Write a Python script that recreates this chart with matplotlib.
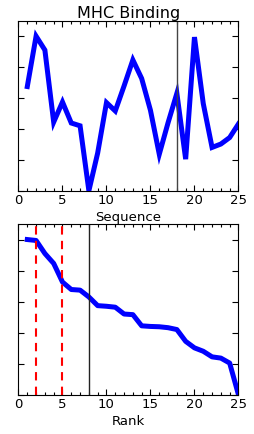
import matplotlib
matplotlib.use("Agg")
import matplotlib.pyplot as plt
from matplotlib.ticker import MultipleLocator, NullFormatter

positions = list(range(1, 26))
binding = [3.37, 5.00, 4.55, 2.22, 2.87, 2.19, 2.10, 0.00, 1.22, 2.85,
           2.58, 3.39, 4.23, 3.63, 2.60, 1.18, 2.20, 3.15, 1.02, 4.97,
           2.82, 1.40, 1.51, 1.72, 2.16]
ranked = sorted(binding, reverse=True)
ranks = list(range(1, 26))
seq_marker = 18
rank_marker = 8
red_marks = [2, 5]
xticks = [0, 5, 10, 15, 20, 25]

fig = plt.figure(figsize=(2.54, 4.35), dpi=100)
ax1 = fig.add_axes([0.0728, 0.5593, 0.866, 0.3908])
ax2 = fig.add_axes([0.0728, 0.0903, 0.866, 0.3924])

lo, hi = min(binding), max(binding)
ylim = (lo, hi + 0.1 * (hi - lo))

ax1.plot(positions, binding, color='#0000ff', lw=3.6, solid_joinstyle='miter')
ax1.axvline(seq_marker, color='#444444', lw=1.0)
ax1.set_title('MHC Binding', fontsize=11.5, pad=3)
ax1.set_xlabel('Sequence', fontsize=9.5, labelpad=2.5)

ax2.plot(ranks, ranked, color='#0000ff', lw=3.6)
for r in red_marks:
    ax2.axvline(r, color='red', lw=1.5, ls=(0, (4, 3)))
ax2.axvline(rank_marker, color='#222222', lw=1.0)
ax2.set_xlabel('Rank', fontsize=9.5, labelpad=2.5)

for ax in (ax1, ax2):
    ax.set_xlim(0, 25)
    ax.set_ylim(*ylim)
    ax.set_xticks(xticks)
    ax.xaxis.set_minor_locator(MultipleLocator(1))
    ax.yaxis.set_major_locator(MultipleLocator(1))
    ax.yaxis.set_major_formatter(NullFormatter())
    ax.tick_params(which='both', direction='in', top=True, right=True,
                   labelsize=9.5, pad=2)
    ax.tick_params(which='major', length=4, width=0.8)
    ax.tick_params(which='minor', length=2, width=0.8)
    for s in ax.spines.values():
        s.set_linewidth(0.8)

fig.savefig('out.png', dpi=100)
